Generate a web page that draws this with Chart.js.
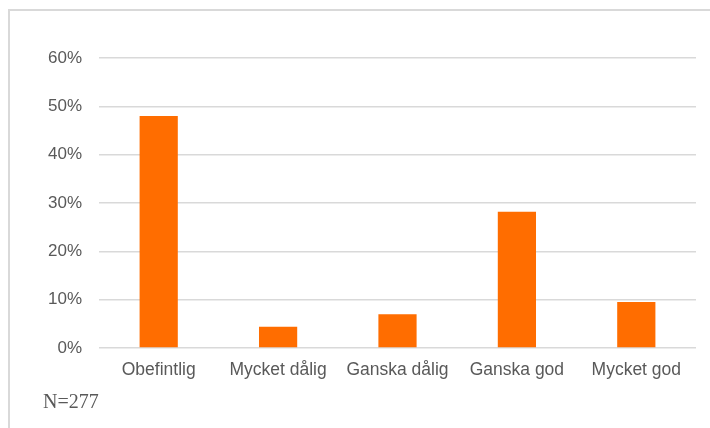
<!DOCTYPE html>
<html>
<head>
<meta charset="utf-8">
<script src="https://cdn.jsdelivr.net/npm/chart.js@4"></script>
<style>
	html, body { margin: 0; padding: 0; background: #fff; }
	#wrap { position: relative; width: 710px; height: 428px; overflow: hidden; }
	#frame { position: absolute; left: 8px; top: 9px; width: 720px; height: 440px; border: 2px solid #d9d9d9; box-sizing: border-box; }
	#chart { position: absolute; left: 0; top: 0; }
	#note { position: absolute; left: 43px; top: 391px; font: 20px/20px "Liberation Serif", "Times New Roman", serif; color: #595959; }
</style>
</head>
<body>
<div id="wrap">
	<div id="frame"></div>
	<canvas id="chart" width="710" height="428"></canvas>
	<div id="note">N=277</div>
</div>
<script>
	// svar i procent
	const categories = ['Obefintlig', 'Mycket dålig', 'Ganska dålig', 'Ganska god', 'Mycket god'];
	const shares = [48.0, 4.4, 7.0, 28.2, 9.5];
	const yMax = 60;
	const yStep = 10;

	let ctx = document.getElementById('chart').getContext('2d');
	new Chart(ctx, {
		type: 'bar',
		data: {
			labels: categories,
			datasets: [{
				data: shares,
				backgroundColor: '#ff6d00',
				borderWidth: 0,
				categoryPercentage: 1,
				barPercentage: 0.32
			}]
		},
		options: {
			responsive: false,
			animation: false,
			layout: { padding: { left: 0, right: 14, top: 58, bottom: 0 } },
			plugins: { legend: { display: false }, tooltip: { enabled: false } },
			scales: {
				x: {
					grid: { display: false, drawTicks: false },
					border: { display: false },
					ticks: { color: '#595959', padding: 12, font: { family: '"Liberation Sans", Arial, sans-serif', size: 17.5 } },
					afterFit: function (scale) { scale.height = 80; }
				},
				y: {
					min: 0,
					max: yMax,
					ticks: {
						stepSize: yStep,
						color: '#595959',
						padding: 17,
						font: { family: '"Liberation Sans", Arial, sans-serif', size: 17 },
						callback: function (v) { return v + '%'; }
					},
					grid: { color: '#d9d9d9', lineWidth: 1.5, drawTicks: false },
					border: { display: false },
					afterFit: function (scale) { scale.width = 99; }
				}
			}
		}
	});
</script>
</body>
</html>
